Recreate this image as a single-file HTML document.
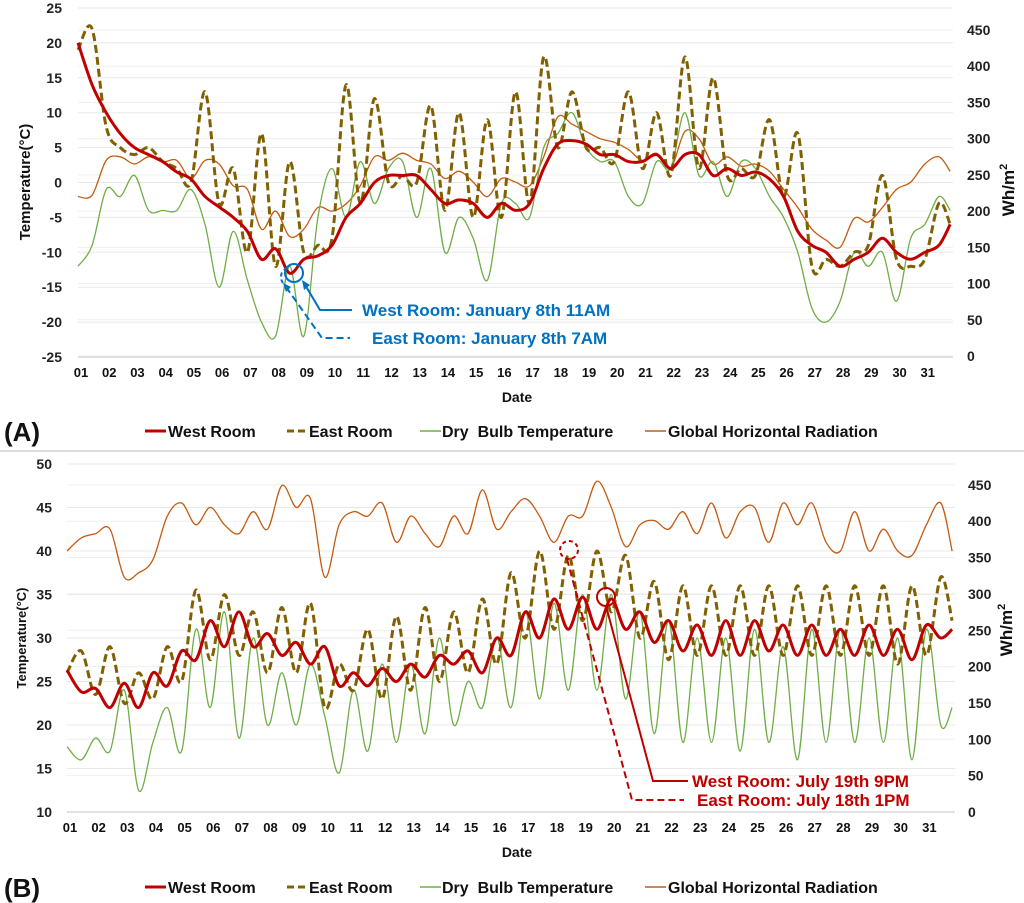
<!DOCTYPE html>
<html><head><meta charset="utf-8">
<style>
html,body{margin:0;padding:0;background:#fff;}
svg{display:block;font-family:"Liberation Sans",sans-serif;}
</style></head>
<body>
<svg id="chart" width="1024" height="903" viewBox="0 0 1024 903" xmlns="http://www.w3.org/2000/svg">
<g id="gA"></g>
<g id="gB"></g>
<line x1="0" y1="451" x2="1024" y2="451" stroke="#d0d0d0" stroke-width="1.5"/>
</svg>
<script>
// ---------- Panel A data (half-day steps, 63 points) ----------
const daysA = 31;
const westA = [20,14,10,7,5,4,3,1.5,0.5,-2,-3.5,-5,-7,-11,-9.5,-13,-11,-10.5,-9,-5,-3,0,1,1,1,-1,-3,-2.5,-3,-5,-3,-4,-3,2,5.5,6,5.5,4,4,3,3,4,2,4,4,1,2,1,1.5,0.5,-2,-7,-9,-10,-12,-11,-10,-8,-10,-11,-10,-9,-6];
const eastA = [19,22,8,5,4,5,3,2,0,13,-3,2,-10,7,-12,3,-10,-9,-8,14,-3,12,0,1,0,11,-4,10,-5,9,-5,13,-3,18,5,13,5,5,3,13,2,10,1,18,2,15,1,2,1,9,-2,7,-12,-11,-12,-10,-9,1,-11,-12,-11,-3,-6];
const dryA = [-12,-9,-1,-2,1,-4,-4,-4,-1,-6,-15,-7,-14,-20,-22,-12,-22,-5,2,-5,3,-3,2,3,-5,2,-10,-5,-8,-14,-3,-3,-5,5,7,10,5,3,3,-2,-3,3,2,10,1,3,-2,3,2,-2,-5,-10,-18,-20,-17,-10,-12,-10,-17,-8,-6,-2,-4];
const radA = [220,222,270,275,265,275,268,270,245,270,265,235,230,175,200,165,175,205,200,210,235,275,270,280,270,265,245,255,240,220,245,240,235,275,330,320,310,300,295,285,270,280,260,310,300,265,275,262,265,255,230,205,175,160,150,190,185,205,230,240,265,275,255];
const leftTicksA = [25,20,15,10,5,0,-5,-10,-15,-20,-25];
const rightTicksA = [450,400,350,300,250,200,150,100,50,0];
// ---------- Panel B data ----------
const westB = [26.3,23.8,24.2,22,24.8,22,26,24.5,28.5,27.5,32,29,33,29,30.5,28,29.5,27,29,24.5,26,24.5,26.5,25,27,25.5,28,27,28.5,26,30,28,33,30,34.5,31,34.7,31,34.5,31,33,29.5,32,28.5,31.5,28,32,28,32,28.5,31.5,28,31.5,28,31,28,31.5,28,31,27.5,31.5,30,31];
const eastB = [26,28.5,23.5,29,22.5,26,23,29,25,35.5,27.5,35,28,33,26,33.5,26,34,22,27,24,31,23,32.5,24,33.5,25,33,26,34.5,27,37.5,30,40,31,39.5,32,40,33,39.5,30,36.5,27.5,36,28,36,28,36,28,36,28,36,28,36,28,36,28,36,27,36,28,37,32];
const dryB = [17.5,16,18.5,17,24,12.5,18,22,17,31,22,33,18.5,30,20,26,20,27,21,14.5,24,17,27,18,27,19,30,20,25,22,30,22,33,23,34,24,35,24,35,23,33,19,32,18,30,18,30,17,31,18,29,16,31,18,31,18,30,18,30,16,31,20,22];
const radB = [359,377,383,389,323,329,347,407,425,395,419,395,383,413,389,449,419,431,323,395,413,407,425,371,407,383,365,407,383,443,389,413,431,407,371,407,407,455,419,365,395,401,389,413,383,425,377,413,419,371,425,395,425,371,359,413,359,389,359,353,395,425,359];
const leftTicksB = [50,45,40,35,30,25,20,15,10];
const rightTicksB = [450,400,350,300,250,200,150,100,50,0];
const dayLabels = ["01","02","03","04","05","06","07","08","09","10","11","12","13","14","15","16","17","18","19","20","21","22","23","24","25","26","27","28","29","30","31"];

const NS = "http://www.w3.org/2000/svg";
function mk(parent, tag, attrs, text){
  const e = document.createElementNS(NS, tag);
  for (const k in attrs) e.setAttribute(k, attrs[k]);
  if (text !== undefined) e.textContent = text;
  parent.appendChild(e);
  return e;
}
function smoothPath(pts){
  let d = "M" + pts[0][0].toFixed(1) + "," + pts[0][1].toFixed(1);
  for (let i = 0; i < pts.length - 1; i++){
    const p0 = pts[Math.max(0,i-1)], p1 = pts[i], p2 = pts[i+1], p3 = pts[Math.min(pts.length-1,i+2)];
    const c1x = p1[0] + (p2[0]-p0[0])/6, c1y = p1[1] + (p2[1]-p0[1])/6;
    const c2x = p2[0] - (p3[0]-p1[0])/6, c2y = p2[1] - (p3[1]-p1[1])/6;
    d += " C" + c1x.toFixed(1) + "," + c1y.toFixed(1) + " " + c2x.toFixed(1) + "," + c2y.toFixed(1) + " " + p2[0].toFixed(1) + "," + p2[1].toFixed(1);
  }
  return d;
}

function drawPanel(g, cfg){
  const xS = t => cfg.x0 + t * (cfg.x1 - cfg.x0) / 31;
  const yL = v => cfg.yTop + (cfg.lMax - v) * (cfg.yBot - cfg.yTop) / (cfg.lMax - cfg.lMin);
  const yR = v => cfg.rY0 - v * cfg.rScale;
  cfg.lTicks.forEach(v => {
    const gl = mk(g, "line", {x1:cfg.x0, x2:cfg.x1, y1:yL(v), y2:yL(v), stroke:"#e8e8e8", "stroke-width":1});
    
    
    const t = mk(g, "text", {x:cfg.lLabelX, y:yL(v)+5, "text-anchor":"end", "font-size":14, "font-weight":"bold", fill:"#222"}, String(v));
    
    
  });
  cfg.rTicks.forEach(v => {
    const gl = mk(g, "line", {x1:cfg.x0, x2:cfg.x1, y1:yR(v), y2:yR(v), stroke:"#efefef", "stroke-width":1});
    
    
    const t = mk(g, "text", {x:cfg.rLabelX, y:yR(v)+5, "text-anchor":"start", "font-size":14, "font-weight":"bold", fill:"#222"}, String(v));
    
    
  });
  const ax = mk(g, "line", {x1:cfg.x0, x2:cfg.x1, y1:cfg.yBot, y2:cfg.yBot, stroke:"#d9d9d9", "stroke-width":1.5});
  
  
  dayLabels.forEach((lab, i) => {
    const t = mk(g, "text", {x:xS(i)+3, y:cfg.yBot+20, "text-anchor":"middle", "font-size":13, "font-weight":"bold", fill:"#111"}, lab);
    
    
  });
  const xt = mk(g, "text", {x:517, y:cfg.yBot+45, "text-anchor":"middle", "font-size":14, "font-weight":"bold", fill:"#111"}, "Date");
  
  
  const yt = mk(g, "text", {transform:"translate("+cfg.ytX+","+cfg.ytY+") rotate(-90)", "text-anchor":"middle", "font-size":cfg.ytSize, "font-weight":"bold", fill:"#111"}, "Temperature(°C)");
  
  
  const rt = mk(g, "text", {transform:"translate("+cfg.rtX+","+cfg.rtY+") rotate(-90)", "text-anchor":"middle", "font-size":17, "font-weight":"bold", fill:"#111"});
  
  
  mk(rt, "tspan", {}, "Wh/m");
  mk(rt, "tspan", {dy:-7, "font-size":11}, "2");

  const pts = (arr, f) => arr.map((v, i) => [xS(i*0.5 + (i===arr.length-1 ? -0.1 : 0)), f(v)]);
  const rad = mk(g, "path", {d:smoothPath(pts(cfg.rad, yR)), fill:"none", stroke:"#c55a11", "stroke-width":1.3});
  
  
  const dry = mk(g, "path", {d:smoothPath(pts(cfg.dry, yL)), fill:"none", stroke:"#70ad47", "stroke-width":1.3});
  
  
  const east = mk(g, "path", {d:smoothPath(pts(cfg.east, yL)), fill:"none", stroke:"#806000", "stroke-width":3, "stroke-dasharray":"8,4"});
  
  
  const west = mk(g, "path", {d:smoothPath(pts(cfg.west, yL)), fill:"none", stroke:"#c00000", "stroke-width":3});
  
  

  const ly = cfg.legY;
  const items = [
    {x:145, tx:168, c:"#c00000", w:3, dash:null, label:"West Room", n:"legend-west-room"},
    {x:287, tx:309, c:"#806000", w:3, dash:"7,4", label:"East Room", n:"legend-east-room"},
    {x:420, tx:442, c:"#70ad47", w:1.5, dash:null, label:"Dry  Bulb Temperature", n:"legend-dry-bulb"},
    {x:645, tx:668, c:"#c55a11", w:1.5, dash:null, label:"Global Horizontal Radiation", n:"legend-global-radiation"}
  ];
  items.forEach(it => {
    const lg = mk(g, "g", {});
    
    
    const a = {x1:it.x, x2:it.x+21, y1:ly, y2:ly, stroke:it.c, "stroke-width":it.w};
    if (it.dash) a["stroke-dasharray"] = it.dash;
    mk(lg, "line", a);
    const tx = mk(lg, "text", {x:it.tx, y:ly+6, "font-size":16, "font-weight":"bold", fill:"#111", "xml:space":"preserve"}, it.label);
    tx.style.whiteSpace = "pre";
  });
  const pl = mk(g, "text", {x:4, y:ly+10, "font-size":26, "font-weight":"bold", fill:"#111"}, cfg.panelLabel);
  
  
}

const gA = document.getElementById("gA");
drawPanel(gA, {x0:78, x1:953, yTop:8, yBot:357, lMax:25, lMin:-25, rY0:356, rScale:0.7244,
  lTicks:leftTicksA, rTicks:rightTicksA, lLabelX:62, rLabelX:967, ytX:30, ytY:182, ytSize:15, rtX:1014, rtY:190,
  west:westA, east:eastA, dry:dryA, rad:radA, legY:431, panelLabel:"(A)"});
const gB = document.getElementById("gB");
drawPanel(gB, {x0:67, x1:955, yTop:464, yBot:812, lMax:50, lMin:10, rY0:812, rScale:0.727,
  lTicks:leftTicksB, rTicks:rightTicksB, lLabelX:52, rLabelX:968, ytX:26, ytY:638, ytSize:13, rtX:1012, rtY:630,
  west:westB, east:eastB, dry:dryB, rad:radB, legY:887, panelLabel:"(B)"});

const blue = "#0070c0", red = "#c00000";
function annot(g, name, color, parts){
  const a = mk(g, "g", {});
  
  
  parts.forEach(p => mk(a, p[0], p[1], p[2]));
}
annot(gA, "annotation-west-room-jan", blue, [
  ["circle", {cx:294, cy:273, r:9, fill:"none", stroke:blue, "stroke-width":2}],
  ["polyline", {points:"304,283 320,310 352,310", fill:"none", stroke:blue, "stroke-width":2}],
  ["polygon", {points:"302,280 310,285 304,290", fill:blue}],
  ["text", {x:362, y:316, "font-size":17, "font-weight":"bold", fill:blue}, "West Room: January 8th 11AM"]
]);
annot(gA, "annotation-east-room-jan", blue, [
  ["path", {d:"M283,283 A8,9 0 0 1 289,268", fill:"none", stroke:blue, "stroke-width":2, "stroke-dasharray":"4,3"}],
  ["polyline", {points:"286,287 322,338 350,338", fill:"none", stroke:blue, "stroke-width":2, "stroke-dasharray":"7,4"}],
  ["polygon", {points:"283,283 291,287 286,292", fill:blue}],
  ["text", {x:372, y:344, "font-size":17, "font-weight":"bold", fill:blue}, "East Room: January 8th 7AM"]
]);
annot(gB, "annotation-west-room-jul", red, [
  ["circle", {cx:606, cy:597, r:9, fill:"none", stroke:red, "stroke-width":2}],
  ["polyline", {points:"606,606 653,781 688,781", fill:"none", stroke:red, "stroke-width":2}],
  ["text", {x:692, y:787, "font-size":17, "font-weight":"bold", fill:red}, "West Room: July 19th 9PM"]
]);
annot(gB, "annotation-east-room-jul", red, [
  ["circle", {cx:569, cy:550, r:9, fill:"none", stroke:red, "stroke-width":2, "stroke-dasharray":"4,3"}],
  ["polyline", {points:"567,559 632,800 684,800", fill:"none", stroke:red, "stroke-width":2, "stroke-dasharray":"7,4"}],
  ["text", {x:697, y:806, "font-size":17, "font-weight":"bold", fill:red}, "East Room: July 18th 1PM"]
]);
</script>
</body></html>
